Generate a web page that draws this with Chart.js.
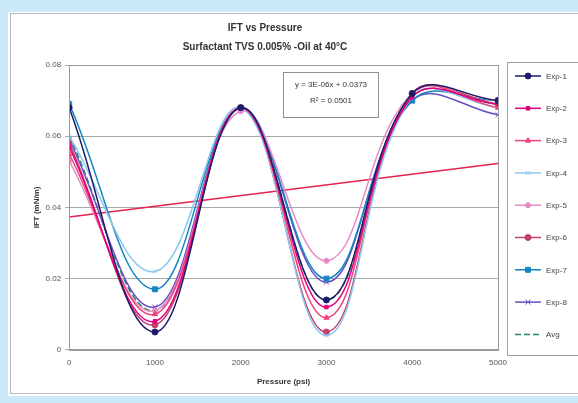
<!DOCTYPE html>
<html>
<head>
<meta charset="utf-8">
<script src="https://cdn.jsdelivr.net/npm/chart.js@4"></script>
<style>
  html, body { margin: 0; padding: 0; background: #c9e9f8; }
  #wrap { width: 578px; height: 403px; }
</style>
</head>
<body>
<div id="wrap"><canvas id="myChart" width="578" height="403"></canvas></div>
<script>
// pressure steps (psi) and measured IFT (mN/m) for each run
var pressure = [0, 1000, 2000, 3000, 4000, 5000];
var exp1 = [0.068, 0.005, 0.068, 0.014, 0.072, 0.070];
var exp2 = [0.057, 0.008, 0.068, 0.012, 0.071, 0.069];
var exp3 = [0.055, 0.010, 0.068, 0.009, 0.072, 0.068];
var exp4 = [0.060, 0.022, 0.068, 0.004, 0.071, 0.068];
var exp5 = [0.053, 0.011, 0.067, 0.025, 0.072, 0.070];
var exp6 = [0.058, 0.007, 0.068, 0.005, 0.072, 0.069];
var exp7 = [0.069, 0.017, 0.068, 0.020, 0.070, 0.070];
var exp8 = [0.059, 0.012, 0.068, 0.019, 0.070, 0.066];
var avg  = [0.060, 0.011, 0.068, 0.014, 0.071, 0.069];
var yTicks = [0, 0.02, 0.04, 0.06, 0.08];
var xTicks = [0, 1000, 2000, 3000, 4000, 5000];

// linear trendline as printed on the chart
var slope = 3e-6;
var intercept = 0.0373;
var rSquared = "0.0501";

var font = "'Liberation Sans', Arial, sans-serif";

function pts(arr) {
    return arr.map(function (v, i) { return { x: pressure[i], y: v }; });
}

function series(label, data, color, style, radius) {
    return {
        label: label,
        data: pts(data),
        borderColor: color,
        backgroundColor: color,
        pointStyle: style,
        pointRadius: radius,
        pointBorderWidth: 1,
        borderWidth: 1.5,
        tension: 0.4
    };
}

var datasets = [
    series("Exp-1", exp1, "#1c1c6a", "circle", 3),
    series("Exp-2", exp2, "#e0007a", "rect", 2.5),
    series("Exp-3", exp3, "#f0407a", "triangle", 3),
    series("Exp-4", exp4, "#8cc8ee", "crossRot", 3),
    series("Exp-5", exp5, "#e68cc4", "circle", 2.5),
    series("Exp-6", exp6, "#c0406e", "circle", 3),
    series("Exp-7", exp7, "#1486c2", "rect", 3.5),
    series("Exp-8", exp8, "#6a4cc4", "crossRot", 3.5),
    {
        label: "Avg",
        data: pts(avg),
        borderColor: "#1e8a5e",
        borderDash: [6, 3],
        borderWidth: 1.5,
        pointRadius: 0,
        tension: 0.4
    },
    {
        label: "trend",
        data: [
            { x: xTicks[0], y: intercept + slope * xTicks[0] },
            { x: xTicks[xTicks.length - 1], y: intercept + slope * xTicks[xTicks.length - 1] }
        ],
        borderColor: "#e8204e",
        borderWidth: 1.5,
        pointRadius: 0,
        tension: 0
    }
];

// page frame, equation box and boxed legend
var decor = {
    id: "decor",
    beforeDraw: function (chart) {
        var c = chart.ctx;
        c.save();
        c.fillStyle = "#c9e9f8";
        c.fillRect(0, 0, 578, 403);
        c.fillStyle = "#ffffff";
        c.fillRect(8, 12, 570, 384);
        c.strokeStyle = "#b8b8b8";
        c.lineWidth = 1;
        c.strokeRect(10.5, 13.5, 580, 380);
        c.restore();
    },
    afterDraw: function (chart) {
        var c = chart.ctx;
        var a = chart.chartArea;
        c.save();
        // plot area border
        c.strokeStyle = "#9a9a9a";
        c.lineWidth = 1;
        c.strokeRect(Math.round(a.left) + 0.5, Math.round(a.top) + 0.5, Math.round(a.right - a.left), Math.round(a.bottom - a.top));

        // trendline equation
        c.fillStyle = "#ffffff";
        c.fillRect(283, 72, 95, 45);
        c.strokeStyle = "#909090";
        c.strokeRect(283.5, 72.5, 95, 45);
        c.fillStyle = "#333333";
        c.font = "8px " + font;
        c.textAlign = "center";
        c.textBaseline = "middle";
        c.fillText("y = " + slope.toExponential(0).replace("e-", "E-0").toUpperCase() + "x + " + intercept, 331, 85);
        c.fillText("R\u00b2 = " + rSquared, 331, 101);

        // legend
        c.fillStyle = "#ffffff";
        c.fillRect(507, 62, 80, 293);
        c.strokeStyle = "#a0a0a0";
        c.strokeRect(507.5, 62.5, 80, 293);
        c.textAlign = "left";
        var items = chart.data.datasets.slice(0, 9);
        items.forEach(function (ds, i) {
            var y = 76 + i * 32.3;
            c.strokeStyle = ds.borderColor;
            c.lineWidth = 1.5;
            c.setLineDash(ds.borderDash || []);
            c.beginPath();
            c.moveTo(515, y);
            c.lineTo(541, y);
            c.stroke();
            c.setLineDash([]);
            if (ds.pointRadius > 0) {
                c.fillStyle = ds.backgroundColor;
                c.strokeStyle = ds.borderColor;
                c.lineWidth = 1;
                Chart.helpers.drawPoint(c, {
                    pointStyle: ds.pointStyle,
                    radius: ds.pointRadius,
                    borderWidth: 1,
                    rotation: 0
                }, 528, y);
            }
            c.fillStyle = "#444444";
            c.font = "8px " + font;
            c.fillText(ds.label, 546, y + 0.5);
        });
        c.restore();
    }
};

const ctx = document.getElementById("myChart");

new Chart(ctx, {
    type: "line",
    data: { datasets: datasets },
    plugins: [decor],
    options: {
        responsive: false,
        animation: false,
        layout: { padding: { left: 32, right: 80, top: 17, bottom: 16 } },
        plugins: {
            legend: { display: false },
            tooltip: { enabled: false },
            title: {
                display: true,
                text: ["IFT vs Pressure", "Surfactant TVS 0.005% -Oil at 40\u00b0C"],
                color: "#333333",
                font: { family: font, size: 10, weight: "bold", lineHeight: 1.9 },
                padding: { top: 2, bottom: 8 }
            }
        },
        scales: {
            x: {
                type: "linear",
                min: 0,
                max: 5000,
                afterBuildTicks: function (axis) {
                    axis.ticks = xTicks.map(function (v) { return { value: v }; });
                },
                grid: { display: false, drawTicks: true, tickLength: 4, color: "#9a9a9a" },
                border: { color: "#9a9a9a" },
                ticks: {
                    color: "#555555",
                    font: { family: font, size: 8 },
                    padding: 4,
                    maxRotation: 0,
                    callback: function (v) { return String(v); }
                },
                title: {
                    display: true,
                    text: "Pressure (psi)",
                    color: "#333333",
                    font: { family: font, size: 8, weight: "bold" },
                    padding: { top: 6, bottom: 0 }
                }
            },
            y: {
                min: 0,
                max: 0.08,
                afterBuildTicks: function (axis) {
                    axis.ticks = yTicks.map(function (v) { return { value: v }; });
                },
                grid: { color: "#a8a8a8", tickLength: 4 },
                border: { color: "#9a9a9a" },
                ticks: {
                    color: "#555555",
                    font: { family: font, size: 8 },
                    padding: 4,
                    callback: function (v) { return String(Math.round(v * 100) / 100); }
                },
                title: {
                    display: true,
                    text: "IFT (mN/m)",
                    color: "#333333",
                    font: { family: font, size: 8, weight: "bold" },
                    padding: { top: 0, bottom: 0 }
                }
            }
        }
    }
});
</script>
</body>
</html>
